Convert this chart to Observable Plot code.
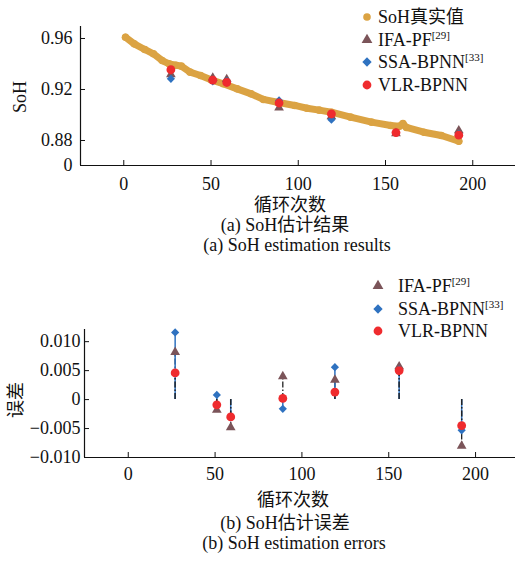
<!DOCTYPE html>
<html><head><meta charset="utf-8">
<script src="https://cdn.jsdelivr.net/npm/d3@7"></script>
<script src="https://cdn.jsdelivr.net/npm/@observablehq/plot@0.6"></script>
<style>
body{margin:0;background:#fff;}
#wrap{position:relative;width:515px;height:562px;overflow:hidden;font-family:"Liberation Serif","Times New Roman","Noto Sans CJK SC",serif;color:#111;}
#wrap svg text{font-family:"Liberation Serif","Times New Roman","Noto Sans CJK SC",serif;}
.abs{position:absolute;white-space:nowrap;line-height:16px;font-size:18px;}
.ctr{transform:translateX(-50%);}
.sup{font-size:11px;position:relative;top:-7px;}
</style></head><body><div id="wrap"></div>
<script>
// ---- data ----
const trueCycles = [1, 6, 12, 17, 22, 26, 30, 33, 38, 44, 50, 57, 65, 73, 80, 88, 98, 105, 112, 119, 130, 142, 153, 158, 160, 162, 172, 182, 192];
const trueSoH = [0.9610, 0.9558, 0.9514, 0.9480, 0.9427, 0.9401, 0.9390, 0.9383, 0.9336, 0.9310, 0.9276, 0.9245, 0.9205, 0.9166, 0.9122, 0.9100, 0.9075, 0.9053, 0.9038, 0.9022, 0.8983, 0.8944, 0.8918, 0.8912, 0.8932, 0.8902, 0.8865, 0.8839, 0.8794];

const estCycles = [27, 51, 59, 89, 119, 156, 192];
const ifaEst = [0.9318, 0.9292, 0.9280, 0.9057, 0.8988, 0.8856, 0.8878];
const ssaEst = [0.9284, 0.9263, 0.9266, 0.9114, 0.8963, 0.8860, 0.8853];
const vlrEst = [0.9355, 0.9273, 0.9255, 0.9094, 0.9008, 0.8862, 0.8842];

const ifaErr = [0.0082, -0.0018, -0.0048, 0.0040, 0.0034, 0.0057, -0.0080];
const ssaErr = [0.0116, 0.0008, -0.0031, -0.0016, 0.0056, 0.0052, -0.0053];
const vlrErr = [0.0046, -0.0009, -0.0030, 0.0002, 0.0013, 0.0050, -0.0045];

const seriesNames = ["IFA-PF", "SSA-BPNN", "VLR-BPNN"];
const seriesRefs = ["[29]", "[33]", ""];
const trueName = "SoH真实值";

const xTicks = [0, 50, 100, 150, 200];
const sohTicks = [0.88, 0.92, 0.96];
const sohBreakLabel = "0";
const errTicks = [-0.010, -0.005, 0, 0.005, 0.010];
const errTickLabels = ["−0.010", "−0.005", "0", "0.005", "0.010"];

const xLabel = "循环次数";
const yLabelTop = "SoH";
const yLabelBottom = "误差";
const captionA = ["(a) SoH估计结果", "(a) SoH estimation results"];
const captionB = ["(b) SoH估计误差", "(b) SoH estimation errors"];

// ---- styles ----
const colTrue = "#dba343";
const seriesColors = ["#7b5459", "#2f72c0", "#ef2b2e"];
const seriesSymbols = ["triangle", "diamond2", "circle"];
const seriesR = [3.6, 3.7, 4.4];
const legendR = [4, 4.2, 4.4];
const d3Sym = {triangle: d3.symbolTriangle, diamond2: d3.symbolDiamond2, circle: d3.symbolCircle};

const FONT = '"Liberation Serif", "Times New Roman", "Noto Sans CJK SC", serif';
const wrap = document.getElementById("wrap");

const estTop = [ifaEst, ssaEst, vlrEst];
const errs = [ifaErr, ssaErr, vlrErr];

function rows(vals) { return estCycles.map((c, i) => ({c, v: vals[i]})); }

function place(svg, topPx) {
  svg.style.position = "absolute";
  svg.style.left = "0px";
  svg.style.top = topPx + "px";
  svg.style.overflow = "visible";
  svg.setAttribute("font-family", FONT);
  wrap.appendChild(svg);
}

// ---- top chart ----
const xDomTop = [-24.8, 224.5];
const yDomTop = [0.86039, 0.96941];
const trueData = trueCycles.map((c, i) => ({c, v: trueSoH[i]}));

const topChart = Plot.plot({
  width: 515, height: 195,
  marginLeft: 80, marginRight: 0, marginTop: 26, marginBottom: 30,
  style: {fontFamily: FONT, fontSize: "18px", color: "#111", background: "transparent", overflow: "visible"},
  x: {domain: xDomTop, label: null},
  y: {domain: yDomTop, label: null},
  marks: [
    Plot.line(trueData, {x: "c", y: "v", stroke: colTrue, strokeWidth: 7, strokeLinecap: "round", strokeLinejoin: "round"}),
    Plot.dot(trueData, {x: "c", y: "v", r: 3.8, fill: colTrue}),
    ...[0, 1, 2].map(k => Plot.dot(rows(estTop[k]), {x: "c", y: "v", symbol: () => seriesSymbols[k], r: seriesR[k], fill: seriesColors[k]})),
    Plot.ruleY([yDomTop[0]], {stroke: "#111", strokeWidth: 1.2}),
    Plot.ruleX([xDomTop[0]], {stroke: "#111", strokeWidth: 1.2}),
    Plot.axisX({ticks: xTicks, tickSize: 5, dy: -5, tickFormat: () => "", label: null}),
    Plot.axisX({ticks: xTicks, tickSize: 0, tickPadding: 12, tickFormat: d => String(d), label: null, fill: "#111"}),
    Plot.axisY({ticks: sohTicks, tickSize: 5, dx: 5, tickFormat: () => "", label: null}),
    Plot.axisY({ticks: [yDomTop[0], ...sohTicks], tickSize: 0, tickPadding: 8, tickFormat: d => d === yDomTop[0] ? sohBreakLabel : d.toFixed(2), label: null, fill: "#111"})
  ]
});
place(topChart, 0);

// ---- bottom chart ----
const xDomBot = [-25.2, 223];
const yDomBot = [-0.010, 0.0121];
const dashDot = "6,2,1.5,2";

const bottomChart = Plot.plot({
  width: 515, height: 223,
  marginLeft: 84, marginRight: 0, marginTop: 67, marginBottom: 28,
  style: {fontFamily: FONT, fontSize: "18px", color: "#111", background: "transparent", overflow: "visible"},
  x: {domain: xDomBot, label: null},
  y: {domain: yDomBot, label: null},
  marks: [
    Plot.ruleX(rows(ifaErr), {x: "c", y1: 0, y2: "v", stroke: "#222", strokeWidth: 1.3, strokeDasharray: dashDot}),
    Plot.ruleX(rows(ssaErr), {x: "c", y1: 0, y2: "v", stroke: seriesColors[1], strokeWidth: 1.5}),
    Plot.ruleX(rows(vlrErr), {x: "c", y1: 0, y2: "v", stroke: "#222", strokeWidth: 1.3, strokeDasharray: dashDot}),
    ...[0, 1, 2].map(k => Plot.dot(rows(errs[k]), {x: "c", y: "v", symbol: () => seriesSymbols[k], r: seriesR[k], fill: seriesColors[k]})),
    Plot.ruleY([yDomBot[0]], {stroke: "#111", strokeWidth: 1.2}),
    Plot.ruleX([xDomBot[0]], {stroke: "#111", strokeWidth: 1.2}),
    Plot.axisX({ticks: xTicks, tickSize: 5, dy: -5, tickFormat: () => "", label: null}),
    Plot.axisX({ticks: xTicks, tickSize: 0, tickPadding: 10, tickFormat: d => String(d), label: null, fill: "#111"}),
    Plot.axisY({ticks: errTicks, tickSize: 5, dx: 5, tickFormat: () => "", label: null}),
    Plot.axisY({ticks: errTicks, tickSize: 0, tickPadding: 4, tickFormat: d => errTickLabels[errTicks.indexOf(d)], label: null, fill: "#111"})
  ]
});
place(bottomChart, 262);

// ---- texts ----
function addText(txt, x, cy, centered) {
  const d = document.createElement("div");
  d.className = "abs" + (centered ? " ctr" : "");
  d.style.left = x + "px";
  d.style.top = (cy - 8) + "px";
  d.textContent = txt;
  wrap.appendChild(d);
  return d;
}
addText(xLabel, 290, 204.5, true);
addText(captionA[0], 285, 224.5, true);
addText(captionA[1], 297, 244.5, true);
addText(xLabel, 293, 500, true);
addText(captionB[0], 285, 522.5, true);
addText(captionB[1], 294, 542.5, true);

function addRotated(txt, cx, cy) {
  const d = document.createElement("div");
  d.className = "abs";
  d.style.left = cx + "px";
  d.style.top = cy + "px";
  d.style.transform = "translate(-50%,-50%) rotate(-90deg)";
  d.textContent = txt;
  wrap.appendChild(d);
}
addRotated(yLabelTop, 20, 97);
addRotated(yLabelBottom, 16, 400);

// ---- legends ----
function addLegendItem(name, ref, color, symbol, r, mx, tx, cy) {
  const s = d3.create("svg").attr("width", 16).attr("height", 16)
    .style("position", "absolute").style("left", (mx - 8) + "px").style("top", (cy - 8) + "px");
  s.append("path").attr("transform", "translate(8,8)")
    .attr("d", d3.symbol(d3Sym[symbol], Math.PI * r * r)()).attr("fill", color);
  wrap.appendChild(s.node());
  const d = addText(name, tx, cy, false);
  if (ref) {
    const sp = document.createElement("span");
    sp.className = "sup";
    sp.textContent = ref;
    d.appendChild(sp);
  }
}
const topRows = [16.7, 39.5, 62, 84.5];
addLegendItem(trueName, "", colTrue, "circle", 3.8, 367, 378, topRows[0]);
[0, 1, 2].forEach(k => addLegendItem(seriesNames[k], seriesRefs[k], seriesColors[k], seriesSymbols[k], legendR[k], 367, 378, topRows[k + 1]));
const botRows = [285.7, 308.5, 331];
[0, 1, 2].forEach(k => addLegendItem(seriesNames[k], seriesRefs[k], seriesColors[k], seriesSymbols[k], legendR[k], 378, 398, botRows[k]));
</script></body></html>
